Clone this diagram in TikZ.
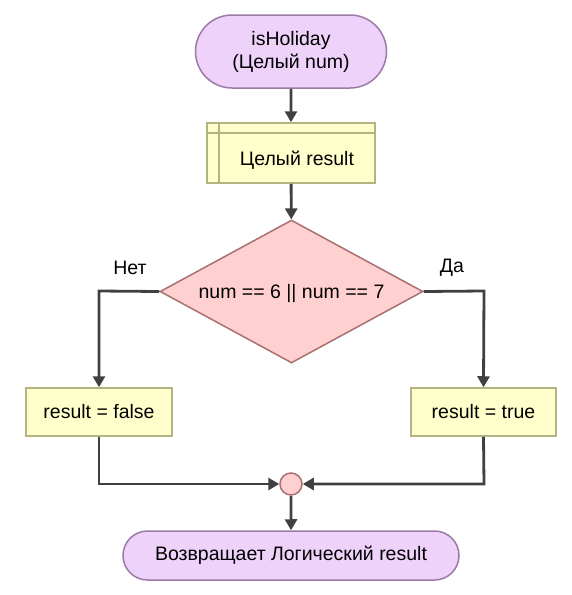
\documentclass[tikz,border=0pt]{standalone}
\usepackage{fontspec}
\setmainfont{Liberation Sans}
\usetikzlibrary{shapes.geometric,shapes.misc,arrows.meta}
\definecolor{termfill}{HTML}{EED2FA}
\definecolor{termdraw}{HTML}{9A7AA6}
\definecolor{boxfill}{HTML}{FFFFCC}
\definecolor{boxdraw}{HTML}{B4B482}
\definecolor{decfill}{HTML}{FFD0D0}
\definecolor{decdraw}{HTML}{A87070}
\definecolor{linecol}{HTML}{404040}
\begin{document}
\begin{tikzpicture}[x=1pt,y=-1pt,
  every node/.style={font=\fontsize{19.5}{23}\selectfont, text=black},
  term/.style={rounded rectangle, fill=termfill, draw=termdraw, line width=1.5pt, inner sep=0pt, align=center},
  procbox/.style={rectangle, fill=boxfill, draw=boxdraw, line width=1.5pt, inner sep=0pt},
  decis/.style={diamond, fill=decfill, draw=decdraw, line width=1.5pt, inner sep=0pt, aspect=1.839},
  joincirc/.style={circle, fill=decfill, draw=decdraw, line width=1.5pt, inner sep=0pt, minimum size=22pt},
  flow/.style={draw=linecol, line width=2.8pt, -{Triangle[length=11pt,width=12pt]}},
  lbl/.style={inner sep=0pt}]
\useasboundingbox (0,0) rectangle (571,595);
\node[term, minimum width=191pt, minimum height=73pt] (start) at (291,51.5) {isHoliday\\(Целый num)};
\node[procbox, minimum width=168pt, minimum height=60pt] (decl) at (291,153) {};
\node[lbl] at (297,160) {Целый result};
\draw[boxdraw, line width=1.5pt] (219,123) -- (219,183);
\draw[boxdraw, line width=1.5pt] (207,133) -- (375,133);
\node[decis, minimum width=263pt, minimum height=143pt] (cond) at (291.5,291.5) {};
\node[lbl] at (291.5,293) {num == 6 || num == 7};
\node[procbox, minimum width=146pt, minimum height=48pt] (fbox) at (99,412) {result = false};
\node[procbox, minimum width=145pt, minimum height=48pt] (tbox) at (483.5,412) {result = true};
\node[joincirc] (join) at (291,484) {};
\node[term, minimum width=336pt, minimum height=49pt] (stop) at (291,555.5) {Возвращает Логический result};
\node[lbl] at (130,268) {Нет};
\node[lbl] at (452,268) {Да};
\coordinate (lc) at (99,291);
\coordinate (rc) at (484,291);
\coordinate (lj) at (99,484);
\coordinate (rj) at (484,484);
\draw[flow] (start) -- (decl);
\draw[flow] (decl) -- (cond);
\draw[flow] (cond.west) -- (lc) -- (fbox.north);
\draw[flow] (cond.east) -- (rc) -- (tbox.north);
\draw[flow] (fbox.south) -- (lj) -- (join.west);
\draw[flow] (tbox.south) -- (rj) -- (join.east);
\draw[flow] (join) -- (stop);
\end{tikzpicture}
\end{document}
